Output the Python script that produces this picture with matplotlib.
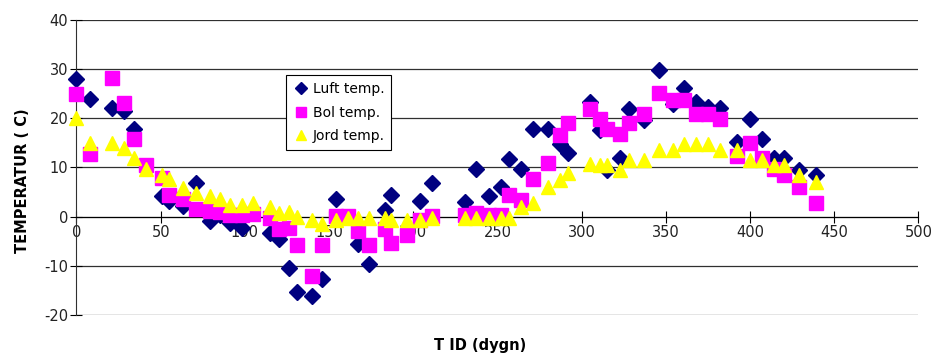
import numpy as np
import matplotlib
matplotlib.use("Agg")
import matplotlib.pyplot as plt

plt.rcParams["axes.unicode_minus"] = False

nan = np.nan

# dagar (TID) och temperaturer
tid = [0, 8, 21, 28, 34, 41, 51, 55, 63, 71, 79, 85, 91, 98, 105,
       115, 120, 126, 131, 140, 146, 154, 161, 167, 174, 183, 187, 196, 204, 211,
       231, 237, 245, 252, 257, 264, 271, 280, 287, 292,
       305, 311, 315, 323, 328, 337, 346, 354, 361, 368, 375, 382,
       392, 400, 407, 414, 420, 429, 439]

luft = [28, 24, 22, 21.4, 17.8, nan, 4.2, 3.1, 2.1, 6.9, -0.9, 0.4, -1.3, -2.3, nan,
        -3.3, -4.5, -10.4, -15.4, -16.1, -12.6, 3.6, nan, -5.5, -9.7, 1.3, 4.4, nan, 3.2, 6.9,
        2.9, 9.6, 4.1, 6.1, 11.8, 9.6, 17.8, 17.8, 14.8, 13,
        23.3, 17.6, 9.5, 11.9, 21.8, 19.6, 29.9, 23, 26.1, 23.3, 22.3, 22.2,
        15.2, 19.8, 15.8, 11.9, 11.9, 9.4, 8.5]

bol = [25, 12.8, 28.3, 23.1, 15.8, 10.5, 7.9, 4.4, 3.5, 1.6, 1.2, 0.9, 0.4, 0.4, 0.6,
       -0.3, -2.6, -2.4, -5.7, -12, -5.7, 0.2, 0.2, -3, -5.7, -2.6, -5.3, -3.8, -0.7, 0.1,
       0.4, 0.7, 0.4, 0.4, 4.4, 3.4, 7.7, 10.9, 16.6, 19.1,
       21.8, 19.8, 17.8, 16.9, 19, 20.9, 25.1, 23.8, 23.8, 20.9, 20.9, 19.8,
       12.3, 15, 11.9, 9.6, 8.5, 6, 2.8]

jord = [20, 15, 15, 14, 12, 9.7, 8.4, 7.6, 5.9, 4.9, 4.1, 3.5, 2.3, 2.3, 2.8,
        2, 0.7, 0.9, -0.1, -0.6, -1.4, -0.6, -0.3, -0.3, -0.3, -0.3, -0.6, -0.6, -0.6, -0.3,
        -0.2, -0.2, -0.2, -0.2, -0.2, 1.9, 2.7, 6, 7.5, 8.8,
        10.7, 10.6, 10.6, 9.4, 11.5, 11.5, 13.5, 13.5, 14.7, 14.7, 14.7, 13.5,
        13.5, 11.5, 11.5, 10.5, 10.5, 8.5, 7.1]

fig = plt.figure(figsize=(9.36, 3.55), dpi=100)
ax = fig.add_axes([0.0817, 0.1127, 0.8996, 0.831])

ax.plot(tid, luft, ls="none", marker="D", ms=8.5, color="#000080", mec="#000080",
        label="Luft temp.", clip_on=False, zorder=3)
ax.plot(tid, bol, ls="none", marker="s", ms=9.5, color="#FF00FF", mec="#FF00FF",
        label="Bol temp.", clip_on=False, zorder=4)
ax.plot(tid, jord, ls="none", marker="^", ms=10.5, color="#FFFF00", mec="#FFFF00",
        label="Jord temp.", clip_on=False, zorder=5)

ax.set_xlim(0, 500)
ax.set_ylim(-20, 40)
ax.set_xticks(range(0, 501, 50))
ax.set_yticks(range(-20, 41, 10))

# horisontella stödlinjer
ax.yaxis.grid(True, color="#303030", lw=0.9)
ax.set_axisbelow(True)

ax.spines["top"].set_visible(False)
ax.spines["right"].set_visible(False)
ax.spines["bottom"].set_position(("data", 0))
ax.spines["bottom"].set_color("black")
ax.spines["left"].set_color("#303030")
ax.tick_params(axis="x", direction="inout", length=8, labelsize=10.5, pad=2, labelcolor="#222222")
ax.tick_params(axis="y", direction="inout", length=8, labelsize=10.5, pad=2, labelcolor="#222222")

leg = ax.legend(loc="upper left", bbox_to_anchor=(0.249, 0.814), borderaxespad=0, fontsize=10,
                frameon=True, fancybox=False, edgecolor="black", framealpha=1,
                handletextpad=0.2, borderpad=0.5, labelspacing=0.7, handlelength=1.2,
                markerscale=0.7)
leg.get_frame().set_linewidth(0.8)
leg.set_zorder(6)

fig.text(0.024, 0.49, "TEMPERATUR ( C)", rotation=90, fontsize=10.5, fontweight="bold",
         ha="center", va="center")
fig.text(0.513, 0.027, "T ID (dygn)", fontsize=10.5, fontweight="bold", ha="center", va="center")

fig.savefig("out.png", dpi=100)
